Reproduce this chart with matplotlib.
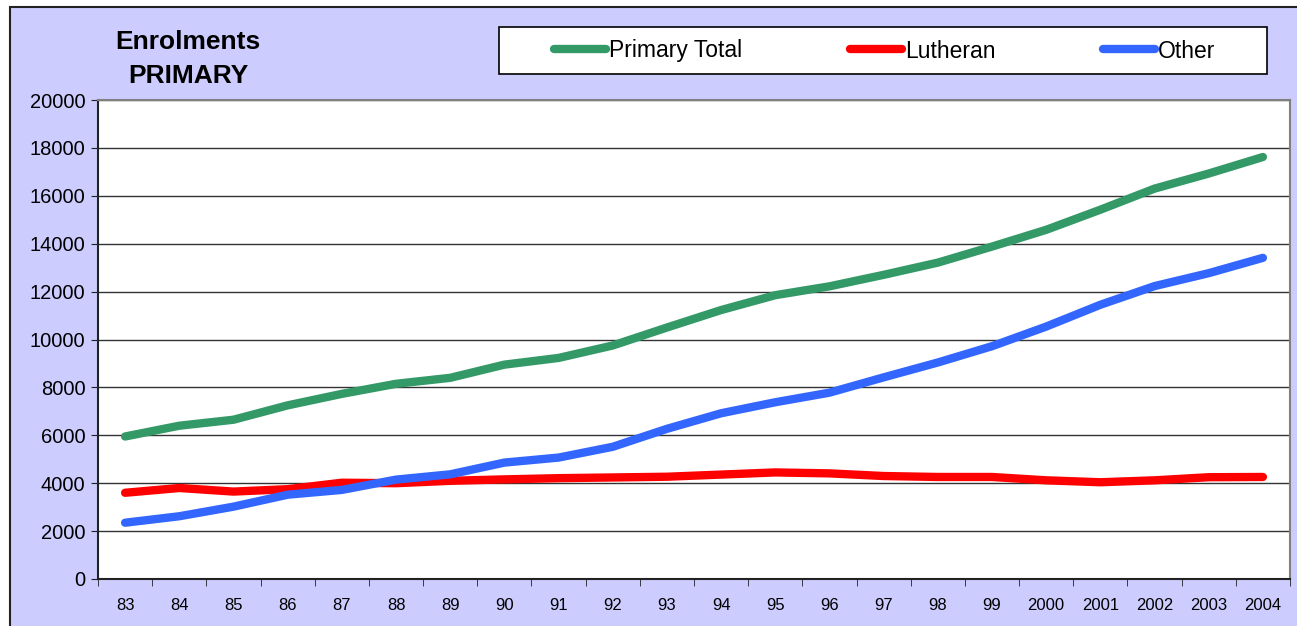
import matplotlib.pyplot as plt
import numpy as np
from matplotlib.patches import Rectangle

plt.rcParams['font.family'] = ['Liberation Sans', 'DejaVu Sans']

years = ['83', '84', '85', '86', '87', '88', '89', '90', '91', '92', '93',
         '94', '95', '96', '97', '98', '99', '2000', '2001', '2002', '2003', '2004']
primary_total = [5950, 6400, 6650, 7250, 7730, 8150, 8400, 8950, 9230, 9750, 10500,
                 11230, 11850, 12220, 12700, 13210, 13880, 14580, 15420, 16300, 16930, 17620]
lutheran = [3600, 3800, 3650, 3750, 4020, 4000, 4100, 4160, 4210, 4240, 4270,
            4360, 4450, 4410, 4300, 4260, 4260, 4120, 4040, 4120, 4250, 4260]
other = [2350, 2620, 3020, 3520, 3720, 4150, 4370, 4860, 5070, 5520, 6270,
         6920, 7380, 7780, 8420, 9040, 9720, 10540, 11450, 12230, 12770, 13410]

W, H = 1297, 626
fig = plt.figure(figsize=(W / 100, H / 100), dpi=100, facecolor='white')

# lavender chart area with dark border on top/left
fig.patches.append(Rectangle((10 / W, -0.1), 1.1, 1 - 7 / H + 0.1, transform=fig.transFigure,
                             facecolor='#CCCCFF', edgecolor='#222222', lw=1.5, zorder=-5))
# legend box
fig.patches.append(Rectangle((499 / W, 1 - 74 / H), (1267 - 499) / W, 47 / H,
                             transform=fig.transFigure, facecolor='white',
                             edgecolor='black', lw=1.2, zorder=-4))

ax = fig.add_axes([98 / W, (H - 579) / H, (1290 - 98) / W, (579 - 100) / H])
ax.set_facecolor('white')

x = np.arange(len(years))
kw = dict(lw=6, solid_capstyle='round', solid_joinstyle='round')
ax.plot(x, primary_total, color='#339966', label='Primary Total', **kw)
ax.plot(x, lutheran, color='#FF0000', label='Lutheran', **kw)
ax.plot(x, other, color='#3366FF', label='Other', **kw)

ax.set_xlim(-0.5, len(years) - 0.5)
ax.set_ylim(0, 20000)
ax.set_yticks(range(0, 20001, 2000))
ax.yaxis.grid(True, color='#333333', lw=1)
ax.set_axisbelow(True)

ax.set_xticks(x)
ax.set_xticklabels(years, fontsize=12)
ax.set_xticks(np.arange(-0.5, len(years)), minor=True)
ax.tick_params(axis='x', which='major', length=0, pad=14)
ax.tick_params(axis='x', which='minor', length=5, direction='out', color='#222222')
ax.tick_params(axis='y', labelsize=14.5, length=5, direction='out', pad=4, color='#222222')

for s in ['top', 'right']:
    ax.spines[s].set_color('#808080')
    ax.spines[s].set_linewidth(1.5)
for s in ['left', 'bottom']:
    ax.spines[s].set_color('#222222')
    ax.spines[s].set_linewidth(1.5)

fig.text(188 / W, 1 - 42 / H, 'Enrolments', ha='center', va='center',
         fontsize=19, fontweight='bold')
fig.text(188 / W, 1 - 76 / H, 'PRIMARY', ha='center', va='center',
         fontsize=19, fontweight='bold')

leg = fig.legend(loc='center', ncol=3, bbox_to_anchor=(885 / W, 1 - 51 / H),
                 fontsize=16.5, frameon=False, handlelength=2.25,
                 handletextpad=0.15, columnspacing=4.7, borderaxespad=0, borderpad=0)

fig.savefig('out.png', dpi=100, facecolor=fig.get_facecolor())
